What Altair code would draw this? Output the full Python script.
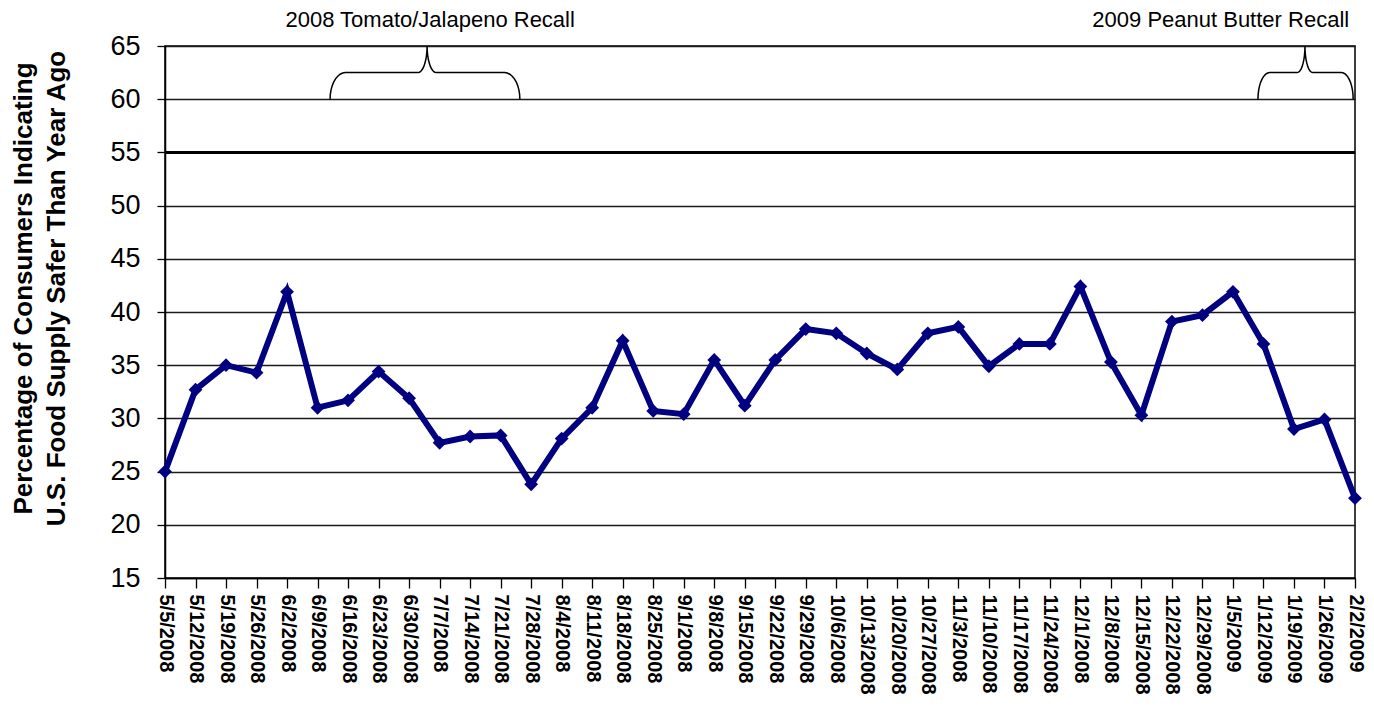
import altair as alt
import pandas as pd
import numpy as np

dates = ["5/5/2008", "5/12/2008", "5/19/2008", "5/26/2008", "6/2/2008", "6/9/2008",
         "6/16/2008", "6/23/2008", "6/30/2008", "7/7/2008", "7/14/2008", "7/21/2008",
         "7/28/2008", "8/4/2008", "8/11/2008", "8/18/2008", "8/25/2008", "9/1/2008",
         "9/8/2008", "9/15/2008", "9/22/2008", "9/29/2008", "10/6/2008", "10/13/2008",
         "10/20/2008", "10/27/2008", "11/3/2008", "11/10/2008", "11/17/2008", "11/24/2008",
         "12/1/2008", "12/8/2008", "12/15/2008", "12/22/2008", "12/29/2008", "1/5/2009",
         "1/12/2009", "1/19/2009", "1/26/2009", "2/2/2009"]

values = [25.0, 32.7, 35.0, 34.3, 41.9, 31.0, 31.7, 34.4, 31.9, 27.7,
          28.3, 28.4, 23.8, 28.1, 31.0, 37.3, 30.7, 30.4, 35.5, 31.2,
          35.5, 38.4, 38.0, 36.1, 34.6, 38.0, 38.6, 34.9, 37.0, 37.0,
          42.4, 35.3, 30.3, 39.1, 39.7, 41.9, 37.0, 29.0, 29.9, 22.5]

# recall annotations: label, brace start / peak / end (in week index units)
recall_labels = ["2008 Tomato/Jalapeno Recall", "2009 Peanut Butter Recall"]
recall_start = [5.41, 35.82]
recall_peak = [8.59, 37.36]
recall_end = [11.63, 38.94]
recall_label_x = [8.69, 34.6]
recall_label_y = [67.45, 67.45]

reference_level = 55
y_min, y_max = 15, 65
brace_base, brace_shoulder, brace_top = 60, 62.5, 65

df = pd.DataFrame({"idx": list(range(len(dates))), "date": dates, "value": values})

# build brace paths
rows = []
for b, (s, p, e) in enumerate(zip(recall_start, recall_peak, recall_end)):
    r_out = min(0.5, (p - s) / 4)
    r_in = min(0.3, (p - s) / 6)
    pts = []
    th = np.linspace(0, np.pi / 2, 10)
    for t in th:
        pts.append((s + r_out * (1 - np.cos(t)), brace_base + (brace_shoulder - brace_base) * np.sin(t)))
    for t in th:
        pts.append((p - r_in + r_in * np.sin(t), brace_shoulder + (brace_top - brace_shoulder) * (1 - np.cos(t))))
    for t in th[::-1]:
        pts.append((p + r_in - r_in * np.sin(t), brace_shoulder + (brace_top - brace_shoulder) * (1 - np.cos(t))))
    for t in th[::-1]:
        pts.append((e - r_out * (1 - np.cos(t)), brace_base + (brace_shoulder - brace_base) * np.sin(t)))
    for k, (x, y) in enumerate(pts):
        rows.append({"brace": b, "order": k, "x": x, "y": y})
brace_df = pd.DataFrame(rows)

label_df = pd.DataFrame({"label": recall_labels, "x": recall_label_x, "y": recall_label_y})

label_expr = "[" + ",".join("'" + d + "'" for d in dates) + "][datum.value]"

x_scale = alt.Scale(domain=[0, len(dates) - 1], nice=False, zero=False)
y_scale = alt.Scale(domain=[y_min, y_max], nice=False, zero=False)

x_axis = alt.Axis(values=list(range(len(dates))), tickCount=100, labelExpr=label_expr, labelAngle=90,
                  labelFontSize=20, labelFontWeight="bold", labelColor="black",
                  labelPadding=6, tickSize=10, tickColor="black", tickWidth=1.3,
                  domainColor="black", domainWidth=1.5, grid=False, title=None,
                  labelOverlap=False, labelFlush=False, labelBound=False)

y_axis = alt.Axis(values=list(range(y_min, y_max + 1, 5)), tickCount=100, format="d",
                  labelFontSize=27, labelColor="black",
                  labelPadding=17, tickSize=8, tickColor="black", tickWidth=1.3,
                  domainColor="black", domainWidth=1.5, grid=True, gridColor="#1a1a1a",
                  gridWidth=1.4,
                  title=["Percentage of Consumers Indicating", "U.S. Food Supply Safer Than Year Ago"],
                  titleFontSize=26, titleFontWeight="bold", titleColor="black",
                  titleAngle=-90, titleX=-155, titleY=242, titleBaseline="top",
                  titleAlign="center", titleLineHeight=33)

line = alt.Chart(df).mark_line(
    color="#000080", strokeWidth=6,
    point=alt.OverlayMarkDef(shape="diamond", size=190, filled=True, color="#000080")
).encode(
    x=alt.X("idx:Q", scale=x_scale, axis=x_axis),
    y=alt.Y("value:Q", scale=y_scale, axis=y_axis),
)

ref = alt.Chart(pd.DataFrame({"y": [reference_level]})).mark_rule(
    color="black", strokeWidth=3
).encode(y=alt.Y("y:Q", scale=y_scale))

braces = alt.Chart(brace_df).mark_line(color="black", strokeWidth=1.5).encode(
    x=alt.X("x:Q", scale=x_scale),
    y=alt.Y("y:Q", scale=y_scale),
    detail="brace:N",
    order="order:Q",
)

labels = alt.Chart(label_df).mark_text(fontSize=22, color="black", align="center",
                                       baseline="middle").encode(
    x=alt.X("x:Q", scale=x_scale),
    y=alt.Y("y:Q", scale=y_scale),
    text="label:N",
)

chart = alt.layer(ref, braces, line, labels).properties(
    width=1190, height=532,
    autosize=alt.AutoSizeParams(type="none"),
    padding={"left": 157, "top": 38, "right": 11, "bottom": 140},
).configure(font="Liberation Sans").configure_view(stroke="black", strokeWidth=1.5)

chart.save("out.html", embed_options={"renderer": "svg", "actions": False})
